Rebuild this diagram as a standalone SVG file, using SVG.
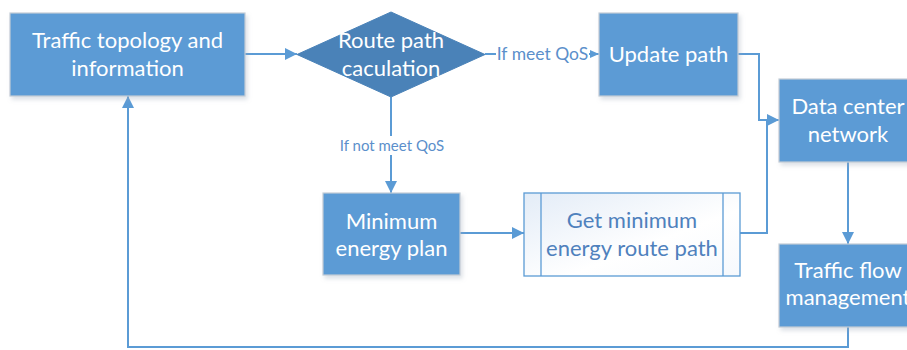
<svg xmlns="http://www.w3.org/2000/svg" width="907" height="350" viewBox="0 0 907 350">
<defs>
<style>
.box{fill:#5B9BD5;stroke:#C3CCD6;stroke-width:1.2}
.dia{fill:#4A82B8;stroke:#4A82B8;stroke-width:1}
.t{font-family:Lato,"Liberation Sans",sans-serif;font-size:22px;fill:#FFFFFF;text-anchor:middle}
.tb{font-family:Lato,"Liberation Sans",sans-serif;font-size:22px;fill:#4F81BD;text-anchor:middle}
.lbl{font-family:Lato,"Liberation Sans",sans-serif;font-size:15px;fill:#5B8FCB;text-anchor:middle}
.lbl2{font-family:Lato,"Liberation Sans",sans-serif;font-size:17.5px;fill:#5B8FCB;text-anchor:middle}
.edge{fill:none;stroke:#5B9BD5;stroke-width:2}
.sub{fill:url(#g1);stroke:#5B9BD5;stroke-width:1.3}
</style>
<linearGradient id="g1" x1="0" y1="0" x2="1" y2="1">
<stop offset="0" stop-color="#E3ECF7"/>
<stop offset="0.6" stop-color="#FFFFFF"/>
<stop offset="1" stop-color="#F6F9FD"/>
</linearGradient>
<filter id="sh" x="-10%" y="-10%" width="130%" height="130%">
<feDropShadow dx="2" dy="3" stdDeviation="2" flood-color="#9AA8B8" flood-opacity="0.35"/>
</filter>
<marker id="ah" viewBox="0 0 12 12" refX="12" refY="6" markerWidth="12" markerHeight="12" markerUnits="userSpaceOnUse" orient="auto">
<path d="M0,0 L12,6 L0,12 z" fill="#5B9BD5"/>
</marker>
<marker id="ahs" viewBox="0 0 9 8" refX="9" refY="4" markerWidth="9" markerHeight="8" markerUnits="userSpaceOnUse" orient="auto">
<path d="M0,0 L9,4 L0,8 z" fill="#5B9BD5"/>
</marker>
</defs>
<rect width="907" height="350" fill="#FFFFFF"/>

<g id="connectors">
<path class="edge" d="M245,54 H297" marker-end="url(#ah)"/>
<path class="edge" d="M485,54 H496"/>
<path class="edge" d="M589,54 H599" marker-end="url(#ahs)"/>
<path class="edge" d="M391,97 V136"/>
<path class="edge" d="M391,155 V193" marker-end="url(#ah)"/>
<path class="edge" d="M460,233 H524" marker-end="url(#ah)"/>
<path class="edge" d="M738,54 H759 V120 H779" marker-end="url(#ah)"/>
<path class="edge" d="M740,233 H767 V120"/>
<path class="edge" d="M848,162 V244" marker-end="url(#ah)"/>
<path class="edge" d="M848,327 V347 H128 V96" marker-end="url(#ah)"/>
<text class="lbl2" x="542.5" y="60">If meet QoS</text>
<text class="lbl" x="392" y="151">If not meet QoS</text>
</g>

<g id="n1">
<rect class="box" x="10" y="13" width="235" height="83" filter="url(#sh)"/>
<text class="t" x="127.5" y="48">Traffic topology and</text>
<text class="t" x="127.5" y="76">information</text>
</g>

<g id="n2">
<path class="dia" d="M391,12 L485,54.5 L391,97 L297,54.5 z"/>
<text class="t" x="391" y="48">Route path</text>
<text class="t" x="391" y="76">caculation</text>
</g>

<g id="n3">
<rect class="box" x="599" y="13" width="139" height="83" filter="url(#sh)"/>
<text class="t" x="668.5" y="62">Update path</text>
</g>

<g id="n4">
<rect class="box" x="779" y="79" width="139" height="83" filter="url(#sh)"/>
<text class="t" x="848" y="114">Data center</text>
<text class="t" x="848" y="142">network</text>
</g>

<g id="n5">
<rect class="box" x="323" y="193" width="137" height="82" filter="url(#sh)"/>
<text class="t" x="391.5" y="229">Minimum</text>
<text class="t" x="391.5" y="256">energy plan</text>
</g>

<g id="n6">
<rect class="sub" x="524" y="193" width="216" height="83"/>
<line x1="541" y1="193" x2="541" y2="276" stroke="#5B9BD5" stroke-width="1.3"/>
<line x1="723" y1="193" x2="723" y2="276" stroke="#5B9BD5" stroke-width="1.3"/>
<text class="tb" x="632" y="228">Get minimum</text>
<text class="tb" x="632" y="256">energy route path</text>
</g>

<g id="n7">
<rect class="box" x="779" y="244" width="139" height="83" filter="url(#sh)"/>
<text class="t" x="848" y="278">Traffic flow</text>
<text class="t" x="848" y="305">management</text>
</g>
</svg>
